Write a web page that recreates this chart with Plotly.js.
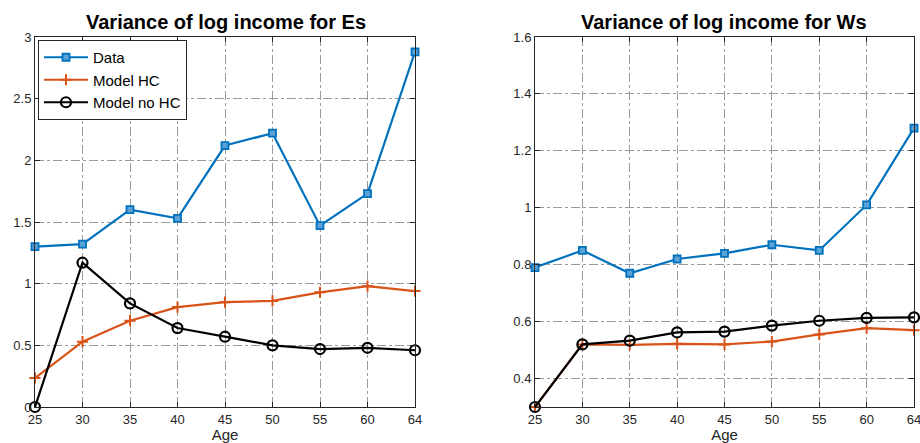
<!DOCTYPE html>
<html>
<head>
<meta charset="utf-8">
<script src="https://cdn.plot.ly/plotly-3.0.1.min.js"></script>
<style>
  html, body { margin: 0; padding: 0; background: #fff; }
  #chart { width: 920px; height: 443px; }
</style>
</head>
<body>
<div id="chart"></div>
<script>
// Age groups shown on the horizontal axis (equally spaced categories)
const ages = ['25', '30', '35', '40', '45', '50', '55', '60', '64'];
const agePos = [1, 2, 3, 4, 5, 6, 7, 8, 9];

// Entrepreneurs (Es)
const esData    = [1.30, 1.32, 1.60, 1.53, 2.12, 2.22, 1.47, 1.73, 2.88];
const esModelHC = [0.235, 0.53, 0.70, 0.81, 0.85, 0.86, 0.93, 0.98, 0.94];
const esModelNoHC = [0.00, 1.17, 0.84, 0.64, 0.57, 0.50, 0.47, 0.48, 0.46];

// Workers (Ws)
const wsData    = [0.79, 0.85, 0.77, 0.82, 0.84, 0.87, 0.85, 1.01, 1.28];
const wsModelHC = [0.30, 0.52, 0.518, 0.522, 0.52, 0.53, 0.555, 0.577, 0.57];
const wsModelNoHC = [0.30, 0.52, 0.533, 0.562, 0.565, 0.586, 0.603, 0.613, 0.615];

const BLUE = '#0072BD', ORANGE = '#D95319', BLACK = '#000000';
const FONT = 'Liberation Sans, Arial, Helvetica, sans-serif';

function series(y, name, color, marker, xa, ya, showlegend) {
  return {
    x: agePos, y: y, name: name, type: 'scatter', mode: 'lines+markers',
    xaxis: xa, yaxis: ya, showlegend: showlegend, cliponaxis: false,
    line: { color: color, width: 2.2 },
    marker: marker
  };
}
const mData = { symbol: 'square', size: 7, color: '#5aa2d6', line: { color: BLUE, width: 1.8 } };
const mHC = { symbol: 'cross-thin', size: 8, color: ORANGE, line: { color: ORANGE, width: 2 } };
const mNoHC = { symbol: 'circle-open', size: 10, color: BLACK, line: { color: BLACK, width: 2.2 } };

const traces = [
  series(esData, 'Data', BLUE, mData, 'x', 'y', true),
  series(esModelHC, 'Model HC', ORANGE, mHC, 'x', 'y', true),
  series(esModelNoHC, 'Model no HC', BLACK, mNoHC, 'x', 'y', true),
  series(wsData, 'Data', BLUE, mData, 'x2', 'y2', false),
  series(wsModelHC, 'Model HC', ORANGE, mHC, 'x2', 'y2', false),
  series(wsModelNoHC, 'Model no HC', BLACK, mNoHC, 'x2', 'y2', false)
];

const yDom = [1 - 407 / 443, 1 - 37 / 443];
function xAxis(domain, anchor) {
  return {
    domain: domain, anchor: anchor, range: [1, 9],
    tickmode: 'array', tickvals: agePos, ticktext: ages,
    ticks: 'inside', ticklen: 5, tickcolor: '#262626', mirror: 'allticks',
    showline: true, linecolor: '#262626', linewidth: 1,
    showgrid: true, gridcolor: '#9a9a9a', griddash: 'dashdot', gridwidth: 1,
    zeroline: false, ticklabeloverflow: 'allow',
    tickfont: { family: FONT, size: 13, color: '#262626' },
    title: { text: 'Age', font: { family: FONT, size: 15, color: '#262626' }, standoff: 3 }
  };
}
function yAxis(domain, anchor, range, dtick) {
  return {
    domain: domain, anchor: anchor, range: range, dtick: dtick, tick0: 0,
    ticks: 'inside', ticklen: 5, tickcolor: '#262626', mirror: 'allticks',
    showline: true, linecolor: '#262626', linewidth: 1,
    showgrid: true, gridcolor: '#9a9a9a', griddash: 'dashdot', gridwidth: 1,
    zeroline: false, ticklabeloverflow: 'allow',
    tickfont: { family: FONT, size: 13, color: '#262626' }
  };
}

const layout = {
  width: 920, height: 443,
  margin: { l: 0, r: 0, t: 0, b: 0 },
  paper_bgcolor: '#fff', plot_bgcolor: '#fff',
  showlegend: true,
  xaxis: xAxis([35 / 920, 415 / 920], 'y'),
  yaxis: yAxis(yDom, 'x', [0, 3], 0.5),
  xaxis2: xAxis([535 / 920, 914 / 920], 'y2'),
  yaxis2: yAxis(yDom, 'x2', [0.3, 1.6], 0.2),
  legend: {
    x: 38 / 920, y: 1 - 40 / 443, xanchor: 'left', yanchor: 'top',
    bgcolor: '#fff', bordercolor: '#262626', borderwidth: 1,
    font: { family: FONT, size: 15, color: '#000' },
    tracegroupgap: 0, itemwidth: 44
  },
  annotations: [
    { text: '<b>Variance of log income for Es</b>', xref: 'paper', yref: 'paper',
      x: 226 / 920, y: 1 - 22 / 443, xanchor: 'center', yanchor: 'middle', showarrow: false,
      font: { family: FONT, size: 20, color: '#000' } },
    { text: '<b>Variance of log income for Ws</b>', xref: 'paper', yref: 'paper',
      x: 724 / 920, y: 1 - 22 / 443, xanchor: 'center', yanchor: 'middle', showarrow: false,
      font: { family: FONT, size: 20, color: '#000' } }
  ]
};

Plotly.newPlot('chart', traces, layout, { staticPlot: true, displayModeBar: false });
</script>
</body>
</html>
